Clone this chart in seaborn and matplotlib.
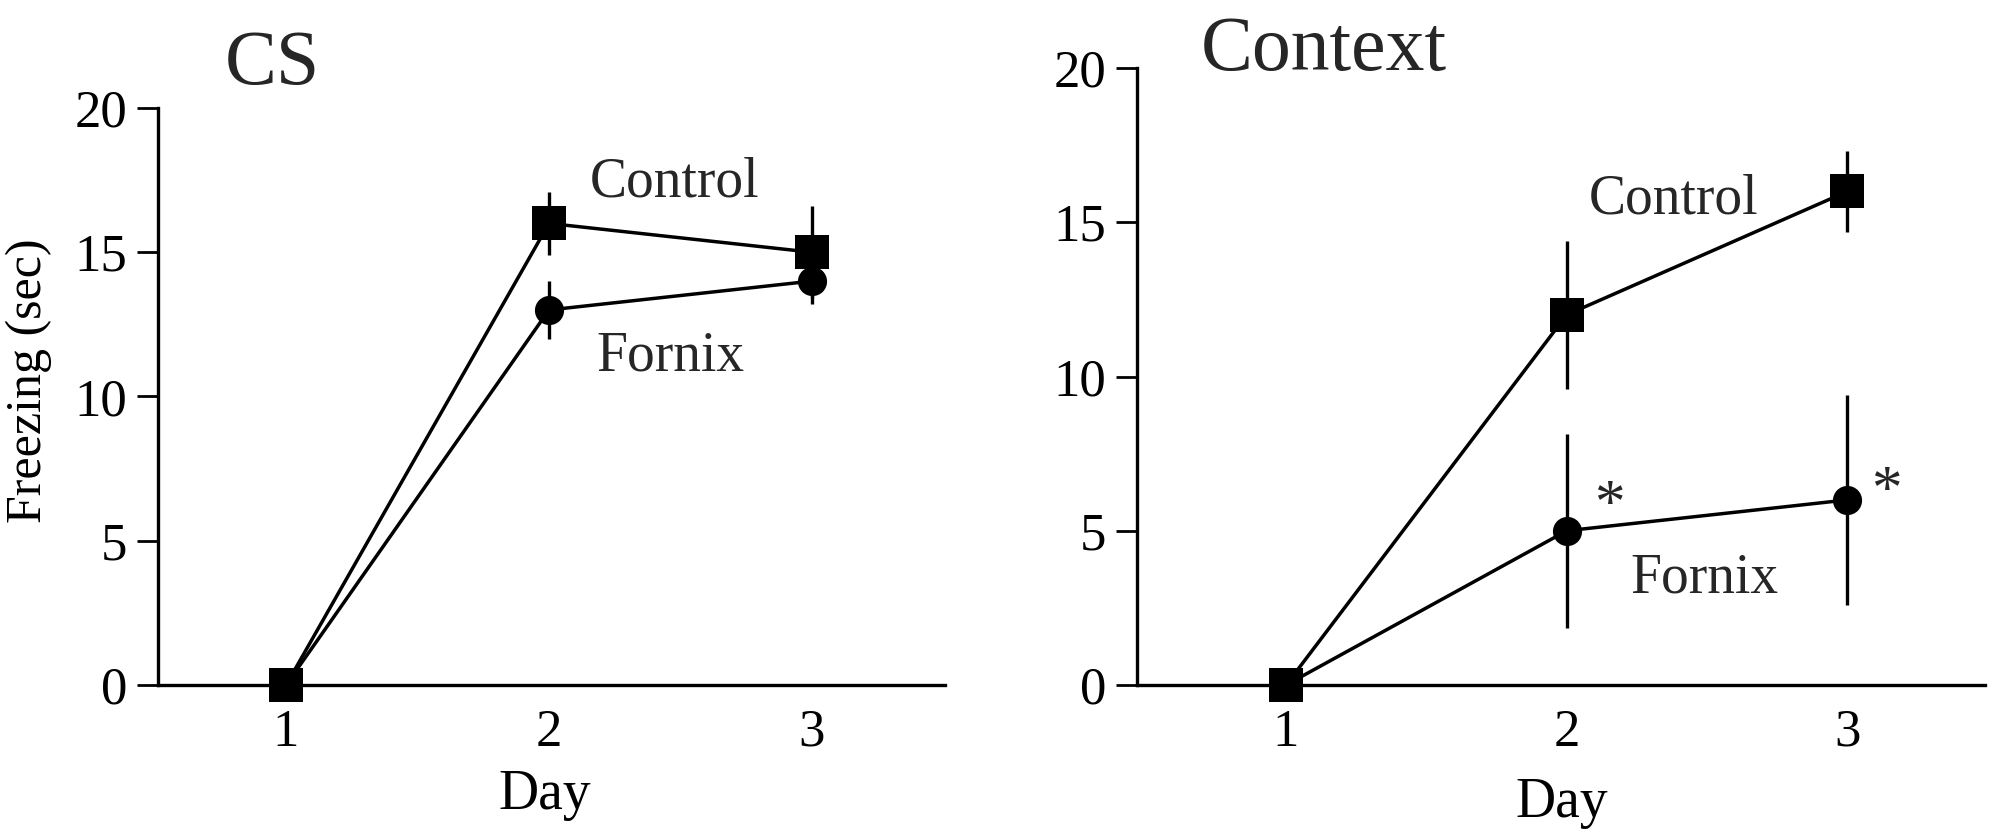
import matplotlib
matplotlib.use("Agg")
import matplotlib.pyplot as plt
import seaborn as sns
import pandas as pd

sns.set_theme(style="white")
plt.rcParams['font.family'] = ['Liberation Serif', 'DejaVu Serif']

days = [1, 2, 3]
groups = ["Control", "Fornix"]

cs_control = [0, 16, 15]
cs_control_err = [0, 1.1, 1.6]
cs_fornix = [0, 13, 14]
cs_fornix_err = [0, 1.0, 0.8]

ctx_control = [0, 12, 16]
ctx_control_err = [0, 2.4, 1.3]
ctx_fornix = [0, 5, 6]
ctx_fornix_err = [0, 3.15, 3.4]

yticks = [0, 5, 10, 15, 20]


def make_df(ctrl, forn):
    return pd.DataFrame({
        "Day": days * 2,
        "Freezing": list(ctrl) + list(forn),
        "Group": ["Control"] * 3 + ["Fornix"] * 3,
    })


fig = plt.figure(figsize=(19.9, 8.3), dpi=100)
ax1 = fig.add_axes([158 / 1990, 145 / 830, 787 / 1990, 577 / 830])
ax2 = fig.add_axes([1137 / 1990, 145 / 830, 848 / 1990, 617 / 830])

panels = [
    (ax1, cs_control, cs_control_err, cs_fornix, cs_fornix_err, (0.513, 3.506)),
    (ax2, ctx_control, ctx_control_err, ctx_fornix, ctx_fornix_err, (0.469, 3.49)),
]

for ax, c, ce, f, fe, xl in panels:
    df = make_df(c, f)
    ax.errorbar(days, f, yerr=fe, fmt="none", ecolor="black", elinewidth=2.4, capsize=0, zorder=2, clip_on=False)
    ax.errorbar(days, c, yerr=ce, fmt="none", ecolor="black", elinewidth=2.4, capsize=0, zorder=2, clip_on=False)
    sns.lineplot(data=df, x="Day", y="Freezing", hue="Group", style="Group",
                 palette={"Control": "black", "Fornix": "black"},
                 markers={"Control": "s", "Fornix": "o"},
                 dashes={"Control": "", "Fornix": ""},
                 linewidth=2.5, ax=ax, legend=False, zorder=3)
    for line in ax.lines:
        if line.get_marker() == "s":
            line.set_markersize(25)
        elif line.get_marker() == "o":
            line.set_markersize(21)
        line.set_markeredgewidth(0)
        line.set_clip_on(False)
    ax.set_xlim(*xl)
    ax.set_ylim(0, 20)
    ax.set_xticks(days)
    ax.set_xticklabels([str(d) for d in days])
    ax.set_yticks(yticks)
    ax.set_yticklabels([str(t) for t in yticks])
    for s in ["top", "right"]:
        ax.spines[s].set_visible(False)
    for s in ["left", "bottom"]:
        ax.spines[s].set_linewidth(2.4)
        ax.spines[s].set_color("black")
    ax.tick_params(axis="y", direction="out", length=15, width=2, pad=7, labelsize=38, colors="black", left=True)
    ax.tick_params(axis="x", length=0, pad=17, labelsize=38, colors="black", bottom=True)
    ax.set_xlabel("Day", fontsize=40, color="black")
    ax.set_ylabel("")
    ax.set_facecolor("white")

ax1.xaxis.set_label_coords(0.492, -0.146)
ax2.xaxis.set_label_coords(0.501, -0.149)
ax1.set_ylabel("Freezing (sec)", fontsize=36, color="black")
ax1.yaxis.set_label_coords(-0.1347, 0.527)

ax1.text(0.145, 1.0416, "CS", transform=ax1.transAxes, fontsize=56, ha="center", va="baseline")
ax2.text(0.2205, 0.9968, "Context", transform=ax2.transAxes, fontsize=56, ha="center", va="baseline")

ax1.text(2.479, 17.43, "Control", fontsize=40, ha="center", va="center")
ax1.text(2.46, 11.4, "Fornix", fontsize=40, ha="center", va="center")
ax2.text(2.38, 15.75, "Control", fontsize=40, ha="center", va="center")
ax2.text(2.49, 3.45, "Fornix", fontsize=40, ha="center", va="center")
ax2.text(2.15, 5.8, "*", fontsize=44, ha="center", va="center")
ax2.text(3.14, 6.24, "*", fontsize=44, ha="center", va="center")

fig.savefig("out.png", dpi=100, facecolor="white")
